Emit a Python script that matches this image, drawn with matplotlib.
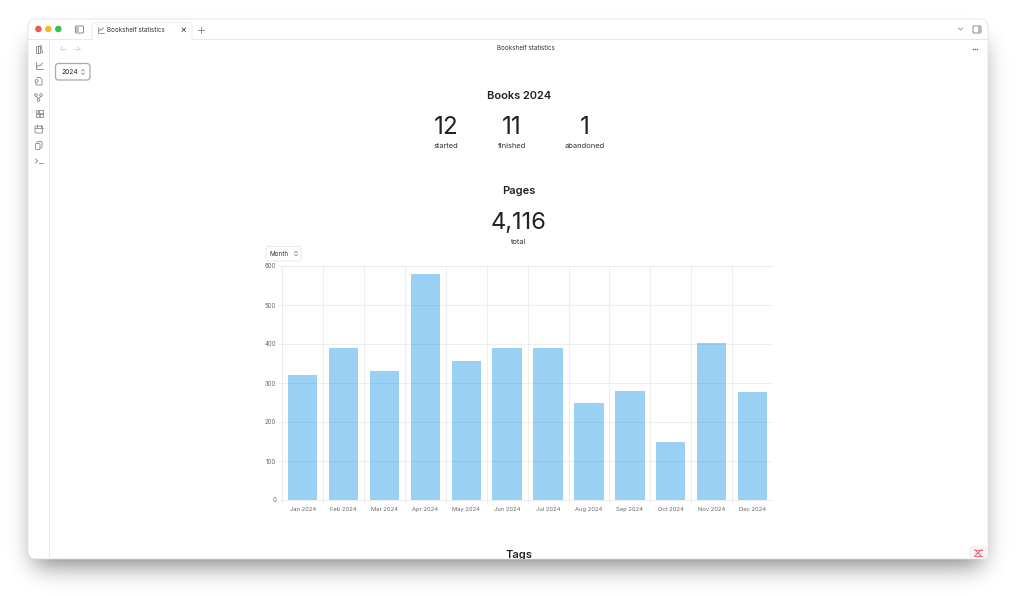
import math
import matplotlib
matplotlib.use("Agg")
import matplotlib.pyplot as plt
import numpy as np
from matplotlib.patches import FancyBboxPatch, Rectangle, Circle
plt.rcParams["font.family"] = ["Inter", "DejaVu Sans"]

months = ["Jan 2024", "Feb 2024", "Mar 2024", "Apr 2024", "May 2024", "Jun 2024",
          "Jul 2024", "Aug 2024", "Sep 2024", "Oct 2024", "Nov 2024", "Dec 2024"]
pages = [320, 390, 330, 580, 357, 390, 390, 250, 280, 150, 403, 276]
y_ticks = [0, 100, 200, 300, 400, 500, 600]
stat_values = ["12", "11", "1"]
stat_labels = ["started", "finished", "abandoned"]
stat_x = [446, 512, 585]

W, H = 1016, 596
fig = plt.figure(figsize=(W / 100, H / 100), dpi=100, facecolor="white")

# pixel overlay for the window around the chart
bg = fig.add_axes([0, 0, 1, 1], zorder=0)


def rbox(ax, x0, y0, x1, y1, r, **kw):
    p = FancyBboxPatch((x0 + r, y0 + r), x1 - x0 - 2 * r, y1 - y0 - 2 * r,
                       boxstyle="round,pad=%f,rounding_size=%f" % (r, r), **kw)
    ax.add_patch(p)
    return p


def soft_edge(n, a, b, s):
    # blurred box profile along one axis
    return np.array([0.5 * (math.erf((i + 0.5 - a) / (s * 1.414)) - math.erf((i + 0.5 - b) / (s * 1.414)))
                     for i in range(n)])


# drop shadow
shadow = np.zeros((H, W, 4))
shadow[..., 3] = 0.48 * np.outer(soft_edge(H, 42, 566, 12), soft_edge(W, 34, 982, 12))
bg.imshow(shadow, extent=(0, W, H, 0), aspect="auto", zorder=1, interpolation="nearest")
bg.set_xlim(0, W)
bg.set_ylim(H, 0)
bg.axis("off")

rbox(bg, 28, 19, 988, 559, 8, fc="white", ec="#dddddd", lw=0.5, zorder=2)
bg.plot([28.5, 987.5], [38.5, 38.5], color="#e8e8e8", lw=0.7, zorder=2.2)
bg.plot([49, 49], [39, 558], color="#ebebeb", lw=0.7, zorder=2.2)

# traffic lights
for x, c in zip([38.4, 48.3, 58.3], ["#ee5b52", "#f5b62e", "#33c748"]):
    bg.add_patch(Circle((x, 29), 3.3, fc=c, ec="none", zorder=3))

# sidebar toggle
rbox(bg, 75.5, 26, 83.5, 33, 1, fc="none", ec="#777777", lw=0.6, zorder=3)
bg.add_patch(Rectangle((76, 27), 3, 5, fc="#c4c4c4", ec="none", zorder=3))

# active tab
rbox(bg, 92, 22.7, 192, 39.5, 3, fc="white", ec="#e8e8e8", lw=0.6, zorder=3)
bg.add_patch(Rectangle((92.5, 37), 99, 3, fc="white", ec="none", zorder=3.1))
bg.plot([97.5, 97.5, 103.5], [26.5, 32.5, 32.5], color="#777777", lw=0.5, zorder=3.2)
bg.plot([99, 100.5, 101.5, 103.5], [31, 29, 30, 28], color="#777777", lw=0.5, zorder=3.2)
bg.text(106.7, 30, "Bookshelf statistics", fontsize=4.5, color="#333333", va="center", zorder=4)
bg.plot([182, 185.5], [28, 31.5], color="#444444", lw=0.6, zorder=4)
bg.plot([182, 185.5], [31.5, 28], color="#444444", lw=0.6, zorder=4)
bg.plot([198, 204], [29.5, 29.5], color="#777777", lw=0.55, zorder=3)
bg.plot([201, 201], [26.5, 32.5], color="#777777", lw=0.55, zorder=3)

# top right controls
bg.plot([958.5, 960.5, 962.5], [28, 30, 28], color="#888888", lw=0.55, zorder=3)
rbox(bg, 973, 26, 981, 33, 1, fc="none", ec="#777777", lw=0.6, zorder=3)
bg.add_patch(Rectangle((977.5, 26.5), 3, 6, fc="#b8b8b8", ec="none", zorder=3))
bg.plot([972.6, 974.9, 977.2], [48.5] * 3, ls="none", marker="o", ms=1.0, mew=0, color="#555555", zorder=3)

# nav arrows
for x0, x1 in [(60.5, 66), (79.5, 74)]:
    d = 2 if x1 > x0 else -2
    bg.plot([x0, x1], [48.5, 48.5], color="#d0d0d0", lw=0.55, zorder=3)
    bg.plot([x0 + d, x0, x0 + d], [46.5, 48.5, 50.5], color="#d0d0d0", lw=0.55, zorder=3)
bg.text(526, 48.5, "Bookshelf statistics", fontsize=4.5, color="#333333",
        ha="center", va="center", zorder=4)

# sidebar icons
ic = {"color": "#888888", "lw": 0.6, "zorder": 3}
bx = {"fc": "none", "ec": "#888888", "lw": 0.6, "zorder": 3}
# library
bg.add_patch(Rectangle((35.5, 45.5), 2.5, 7, **bx))
bg.add_patch(Rectangle((38, 45.5), 1.5, 7, **bx))
bg.plot([39.5, 41, 42.5, 41], [46, 45.5, 52.5, 52.5], **ic)
# stats
bg.plot([35.5, 35.5, 42.5], [61.5, 68.5, 68.5], **ic)
bg.plot([37, 38.5, 40, 42.5], [67, 65, 66, 63], **ic)
# file with circle
bg.plot([37, 40, 42, 42, 36, 36], [77.5, 77.5, 79.5, 85, 85, 83], **ic)
bg.add_patch(Circle((36.5, 81), 1.5, **bx))
# fork
for px, py in [(36, 95), (41, 95), (38.5, 100)]:
    bg.add_patch(Circle((px, py), 1.3, **bx))
bg.plot([36, 38.5, 41], [96.3, 98.7, 96.3], **ic)
# tiles
for px, py, w, h in [(35.5, 109.5, 2.7, 3), (39, 109.5, 3.5, 3), (35.5, 113.5, 3.5, 3), (39.8, 113.5, 2.7, 3)]:
    bg.add_patch(Rectangle((px, py), w, h, **bx))
# calendar
rbox(bg, 35, 126, 42.5, 133, 1, **bx)
bg.plot([35, 42.5], [128.2, 128.2], **ic)
bg.plot([37, 37], [125, 127], **ic)
bg.plot([40.5, 40.5], [125, 127], **ic)
# copy
rbox(bg, 37, 141.5, 42, 148, 1, fc="white", ec="#888888", lw=0.6, zorder=3)
rbox(bg, 35.5, 143.5, 40, 149.5, 1, fc="white", ec="#888888", lw=0.6, zorder=3.1)
# terminal
bg.plot([35.5, 37.8, 35.5], [159, 161, 163], **ic)
bg.plot([38.8, 42.5], [163, 163], **ic)

# year select
rbox(bg, 55.5, 63.5, 90, 80, 3, fc="white", ec="#aaaaaa", lw=0.9, zorder=3)
bg.text(61, 72, "2024", fontsize=4.8, color="#222222", va="center", zorder=4)
bg.plot([81.5, 83, 84.5], [71, 69.5, 71], color="#666666", lw=0.45, zorder=4)
bg.plot([81.5, 83, 84.5], [73, 74.5, 73], color="#666666", lw=0.45, zorder=4)

# headings and counters
bg.text(519, 96, "Books 2024", fontsize=8.0, fontweight="semibold", color="#222222",
        ha="center", va="center", zorder=4)
for x, v, l in zip(stat_x, stat_values, stat_labels):
    bg.text(x, 127, v, fontsize=17.5, color="#222222", ha="center", va="center", zorder=4)
    bg.text(x, 146.5, l, fontsize=5.4, color="#333333", ha="center", va="center", zorder=4)
bg.text(519, 190.5, "Pages", fontsize=8.0, fontweight="semibold", color="#222222",
        ha="center", va="center", zorder=4)
bg.text(519, 223, "4,116", fontsize=17, color="#222222", ha="center", va="center", zorder=4)
bg.text(519, 241.5, "total", fontsize=5.4, color="#333333", ha="center", va="center", zorder=4)
tags = bg.text(519, 555, "Tags", fontsize=8.0, fontweight="semibold", color="#222222",
               ha="center", va="center", zorder=4)
tags.set_clip_path(Rectangle((28, 19), 960, 539.5, transform=bg.transData))
tags.set_clip_on(True)

# month select
rbox(bg, 266, 246.5, 301, 261, 2, fc="white", ec="#e8e8e8", lw=0.7, zorder=3)
bg.text(270, 253.5, "Month", fontsize=4.5, color="#333333", va="center", zorder=4)
bg.plot([294.5, 296, 297.5], [252.7, 251.3, 252.7], color="#666666", lw=0.45, zorder=4)
bg.plot([294.5, 296, 297.5], [254.5, 255.9, 254.5], color="#666666", lw=0.45, zorder=4)

# corner badge
rbox(bg, 969, 546, 988, 559, 3, fc="#f4f4f4", ec="none", zorder=3)
pk = {"color": "#ee5470", "lw": 0.6, "zorder": 4}
bg.plot([974.5, 981.5], [549.5, 556.5], **pk)
bg.plot([974.5, 981.5], [556.5, 549.5], **pk)
bg.plot([974.5, 981.5], [549.7, 549.7], **pk)
bg.plot([974.5, 981.5], [556.3, 556.3], **pk)
bg.plot([974.5, 981.5], [553, 553], color="#ee5470", lw=0.6, ls=":", zorder=4)

# the chart
left, right, top, bottom = 282.2, 773, 266, 500
ax = fig.add_axes([left / W, 1 - bottom / H, (right - left) / W, (bottom - top) / H], zorder=5)
ax.patch.set_alpha(0)
xpos = list(range(len(months)))
ax.bar(xpos, pages, width=0.72, color="#36a2eb", alpha=0.5, linewidth=0, zorder=3)
ax.set_xlim(-0.5, len(months) - 0.5)
ax.set_ylim(0, 600)
ax.set_yticks(y_ticks)
ax.set_xticks([i - 0.5 for i in range(len(months))], minor=False)
ax.set_xticklabels([])
ax.set_xticks(xpos, minor=True)
ax.set_xticklabels(months, minor=True)
ax.grid(True, color="#ebebeb", lw=0.6, zorder=0)
ax.tick_params(axis="both", which="major", length=2.8, width=0.6, color="#ebebeb")
ax.tick_params(axis="x", which="minor", length=0, labelsize=4.2, labelcolor="#666666", pad=5.3)
ax.tick_params(axis="y", labelsize=4.4, labelcolor="#666666", pad=1.6)
ax.spines["right"].set_visible(False)
for k in ["left", "top", "bottom"]:
    ax.spines[k].set_color("#ebebeb")
    ax.spines[k].set_linewidth(0.6)

fig.savefig("out.png", dpi=100)
